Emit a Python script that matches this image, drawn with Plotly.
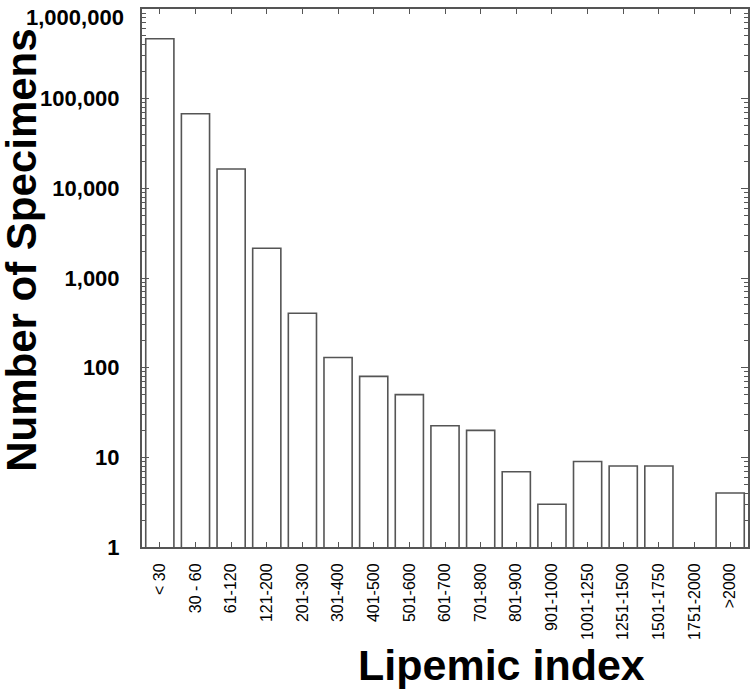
import plotly.graph_objects as go

categories = ["< 30", "30 - 60", "61-120", "121-200", "201-300", "301-400", "401-500",
              "501-600", "601-700", "701-800", "801-900", "901-1000", "1001-1250",
              "1251-1500", "1501-1750", "1751-2000", ">2000"]
counts = [465000, 68000, 16400, 2150, 405, 130, 80, 50, 22.5, 20, 6.9, 3, 9, 8, 8, None, 4]

y_tick_vals = [1, 10, 100, 1000, 10000, 100000, 1000000]
y_tick_text = ["1", "10", "100", "1,000", "10,000", "100,000", "1,000,000"]

FONT = "Arial, Liberation Sans, sans-serif"
AX = "#555555"
TICKFONT = dict(size=22, family=FONT, color="black", weight="bold")

fig = go.Figure()
fig.add_trace(go.Bar(
    x=categories, y=counts,
    marker=dict(color="white", line=dict(color="#555555", width=1.6)),
    width=0.79,
))

# top label is drawn as an annotation so it can sit just inside the page
shown_text = y_tick_text[:-1] + [""]

fig.update_layout(
    width=750, height=692,
    margin=dict(l=142, r=2, t=9, b=145),
    paper_bgcolor="white", plot_bgcolor="white",
    showlegend=False,
    font=dict(family=FONT, color="black"),
    xaxis=dict(
        type="category", range=[-0.5, 16.5], automargin=False,
        showline=True, linecolor=AX, linewidth=2, mirror="ticks",
        ticks="inside", ticklen=5, tickcolor=AX, tickwidth=1,
        tickangle=-90, tickfont=dict(size=16, family=FONT, color="black"),
        ticklabelstandoff=8,
        showgrid=False, zeroline=False,
    ),
    yaxis=dict(
        type="log", range=[0, 6], automargin=False,
        tickvals=y_tick_vals, ticktext=shown_text,
        showline=True, linecolor=AX, linewidth=2, mirror="ticks",
        ticks="inside", ticklen=7, tickcolor=AX, tickwidth=1,
        tickfont=TICKFONT,
        ticklabelstandoff=16, ticklabeloverflow="allow",
        minor=dict(ticks="inside", ticklen=4, tickcolor=AX, dtick="D1", showgrid=False),
        showgrid=False, zeroline=False,
    ),
    annotations=[
        dict(text=y_tick_text[-1], xref="paper", yref="y",
             x=0, y=6, xshift=-16, yshift=-8, xanchor="right", yanchor="middle",
             showarrow=False, font=TICKFONT),
        dict(text="<b>Lipemic index</b>", xref="paper", yref="paper",
             x=0.594, y=-0.219, xanchor="center", yanchor="middle",
             showarrow=False, font=dict(size=43, family=FONT, color="black")),
        dict(text="<b>Number of Specimens</b>", xref="paper", yref="paper",
             x=-0.2, y=0.552, xanchor="center", yanchor="middle", textangle=-90,
             showarrow=False, font=dict(size=42, family=FONT, color="black")),
    ],
)

fig.write_html("out.html", config={"displayModeBar": False},
               post_script="document.body.style.margin='0px';document.body.style.overflow='hidden';")
